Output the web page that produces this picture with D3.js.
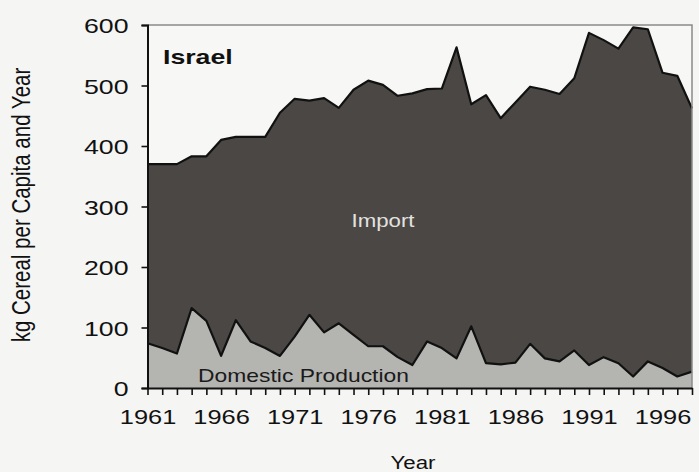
<!DOCTYPE html>
<html>
<head>
<meta charset="utf-8">
<script src="https://cdn.jsdelivr.net/npm/d3@7"></script>
<style>
  body { margin: 0; background: #f5f5f3; }
  svg { display: block; font-family: "Liberation Sans", Arial, sans-serif; }
</style>
</head>
<body>
<script>
// cereal per capita, Israel (kg)
const years = d3.range(1961, 1999)
const domestic = [74, 66, 57, 132, 111, 53, 112, 77, 66, 53, 85, 121, 92, 107, 88, 69, 69, 51, 38, 77,
  66, 49, 102, 41, 39, 42, 73, 49, 44, 62, 38, 51, 41, 19, 44, 33, 19, 27]
const imports = [296, 304, 313, 251, 272, 357, 303, 338, 349, 402, 393, 354, 387, 356, 405, 439, 432, 432, 449, 417,
  429, 514, 367, 443, 407, 430, 425, 444, 442, 450, 549, 524, 520, 577, 549, 488, 497, 435]
const yTicks = [0, 100, 200, 300, 400, 500, 600]
const labelYears = years.filter(y => (y - 1961) % 5 === 0)

const w = 699, h = 472
const pLeft = 147.5, pRight = 692, pTop = 25, pBottom = 388
const sx = 1.27 // the scan is stretched sideways a bit

const svg = d3.select("body").append("svg").attr("width", w).attr("height", h)

const x = d3.scaleLinear().domain([1961, 1998]).range([pLeft, pRight])
const y = d3.scaleLinear().domain([0, 600]).range([pBottom, pTop])

const rows = years.map((yr, i) => ({year: yr, domestic: domestic[i], import: imports[i]}))
const series = d3.stack().keys(["domestic", "import"])(rows)
const fills = {domestic: "#b4b4b1", import: "#4a4744"}

svg.append("rect").attr("x", pLeft).attr("y", pTop).attr("width", pRight - pLeft).attr("height", pBottom - pTop).attr("fill", "#f7f7f5")

const area = d3.area().x(d => x(d.data.year)).y0(d => y(d[0])).y1(d => y(d[1]))
const line = d3.line().x(d => x(d.data.year)).y(d => y(d[1]))

svg.selectAll("path.area").data(series).enter().append("path").attr("class", "area")
  .attr("d", area).attr("fill", d => fills[d.key])
svg.selectAll("path.edge").data(series).enter().append("path").attr("class", "edge")
  .attr("d", line).attr("fill", "none").attr("stroke", "#111").attr("stroke-width", 2.2).attr("stroke-linejoin", "round")

// plot frame top / right
svg.append("path").attr("d", `M${pLeft},${pTop}H${pRight}V${pBottom}`).attr("fill", "none").attr("stroke", "#8a8a8a").attr("stroke-width", 1.5)

const yAxis = svg.append("g").attr("transform", `translate(${pLeft},0)`)
  .call(d3.axisLeft(y).tickValues(yTicks).tickSize(6).tickPadding(0).tickFormat(d3.format("d")))
const xAxis = svg.append("g").attr("transform", `translate(0,${pBottom})`)
  .call(d3.axisBottom(x).tickValues(years).tickSize(7).tickSizeOuter(0).tickFormat(d => labelYears.includes(d) ? d : ""))

svg.selectAll(".domain").attr("stroke", "#111").attr("stroke-width", 2)
svg.selectAll(".tick line").attr("stroke", "#111").attr("stroke-width", 1.6)
yAxis.selectAll("text").attr("x", null).attr("dy", "0.36em").attr("fill", "#111").attr("font-size", 21)
  .attr("transform", "translate(-19,0) scale(" + sx + ",1)")
xAxis.selectAll("text").attr("y", null).attr("dy", null).attr("fill", "#111").attr("font-size", 20)
  .attr("transform", "translate(0,36) scale(" + sx + ",1)")

const label = (txt, tx, ty, size, opts) => {
  const t = svg.append("text").text(txt).attr("font-size", size)
    .attr("transform", `translate(${tx},${ty}) scale(${sx},1)` + (opts.rot ? " rotate(-90)" : ""))
    .attr("text-anchor", opts.anchor || "start").attr("fill", opts.fill || "#111")
  if (opts.bold) t.attr("font-weight", "bold")
  return t
}

label("Israel", 163, 64, 21, {bold: true})
label("Import", 383, 227, 17.5, {anchor: "middle", fill: "#e2e2e0"})
label("Domestic Production", 303.5, 382, 18, {anchor: "middle", fill: "#1a1a1a"})
label("Year", 413, 469, 17.5, {anchor: "middle"})
label("kg Cereal per Capita and Year", 30, 205, 20.5, {anchor: "middle", rot: true})
</script>
</body>
</html>
